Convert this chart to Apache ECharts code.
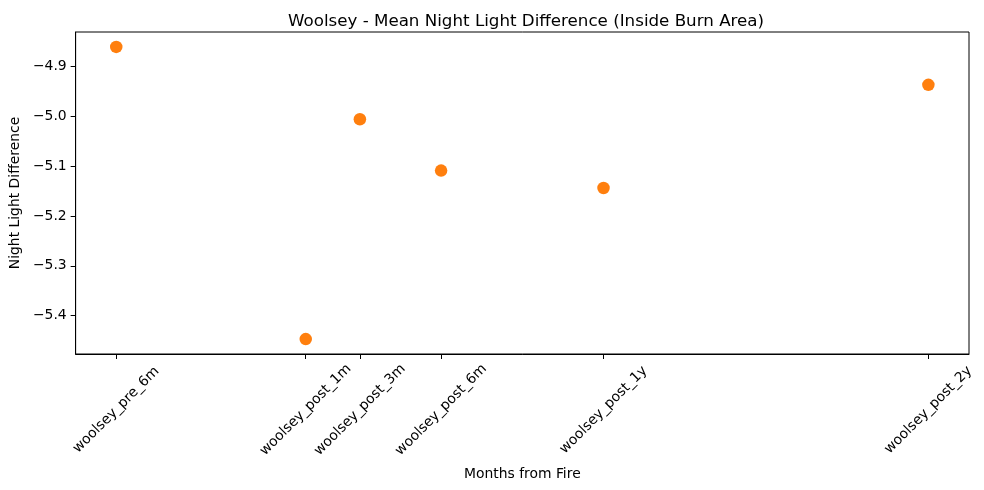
<!DOCTYPE html>
<html>
<head>
<meta charset="utf-8">
<script src="https://cdn.jsdelivr.net/npm/echarts@6/dist/echarts.min.js"></script>
<style>
html,body{margin:0;padding:0;background:#fff;}
#chart{width:984px;height:490px;}
</style>
</head>
<body>
<div id="chart"></div>
<script>
const categories = ['woolsey_pre_6m','woolsey_post_1m','woolsey_post_3m','woolsey_post_6m','woolsey_post_1y','woolsey_post_2y'];
const months = [-6, 1, 3, 6, 12, 24];
const values = [-4.861, -5.447, -5.006, -5.109, -5.144, -4.937];
const yTicks = [-5.4, -5.3, -5.2, -5.1, -5.0, -4.9];

const FONT = 'DejaVu Sans';
const chart = echarts.init(document.getElementById('chart'), null, {renderer: 'canvas'});
const fmtY = v => (v < 0 ? '\u2212' : '') + Math.abs(v).toFixed(1);

chart.setOption({
  animation: false,
  backgroundColor: '#ffffff',
  title: {
    text: 'Woolsey - Mean Night Light Difference (Inside Burn Area)',
    left: 521, top: 8, textAlign: 'center',
    textStyle: {fontFamily: FONT, fontSize: 16.7, fontWeight: 'normal', color: '#000'}
  },
  grid: {left: 73, right: 15, top: 32, bottom: 136, show: true, borderColor: '#000', borderWidth: 1, containLabel: false},
  xAxis: {
    type: 'value', min: -7.5, max: 25.5,
    name: 'Months from Fire', nameLocation: 'middle', nameGap: 113,
    nameTextStyle: {fontFamily: FONT, fontSize: 13.9, color: '#000'},
    axisLine: {show: true, onZero: false, lineStyle: {color: '#000', width: 1}},
    axisTick: {show: true, length: 5, lineStyle: {color: '#000', width: 1}, customValues: months},
    axisLabel: {
      customValues: months,
      formatter: v => { const i = months.indexOf(v); return i >= 0 ? categories[i] : ''; },
      rotate: 45, align: 'center', verticalAlign: 'middle', margin: 56,
      fontFamily: FONT, fontSize: 13.9, color: '#000'
    },
    splitLine: {show: false}
  },
  yAxis: {
    type: 'value', min: -5.477, max: -4.831,
    name: 'Night Light Difference', nameLocation: 'middle', nameGap: 49,
    nameTextStyle: {fontFamily: FONT, fontSize: 13.9, color: '#000'},
    axisLine: {show: true, onZero: false, lineStyle: {color: '#000', width: 1}},
    axisTick: {show: true, length: 5, lineStyle: {color: '#000', width: 1}, customValues: yTicks},
    axisLabel: {customValues: yTicks, formatter: fmtY, margin: 9, fontFamily: FONT, fontSize: 13.9, color: '#000'},
    splitLine: {show: false}
  },
  series: [{
    type: 'scatter',
    data: months.map((m, i) => [m, values[i]]),
    symbol: 'circle', symbolSize: 12.5,
    itemStyle: {color: '#ff7f0e', opacity: 1}
  }]
});
</script>
</body>
</html>
